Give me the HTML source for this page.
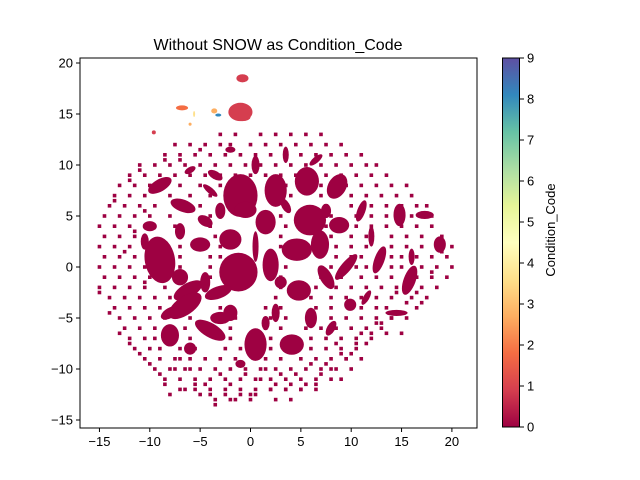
<!DOCTYPE html>
<html><head><meta charset="utf-8"><style>
body{margin:0;background:#fff;}
svg{display:block;font-family:"Liberation Sans","DejaVu Sans",sans-serif;}
</style></head><body>
<svg id="chart" width="640" height="480" viewBox="0 0 640 480">
<defs>
<linearGradient id="spec" x1="0" y1="1" x2="0" y2="0">
<stop offset="0" stop-color="#9e0142"/><stop offset="0.1" stop-color="#d53e4f"/><stop offset="0.2" stop-color="#f46d43"/><stop offset="0.3" stop-color="#fdae61"/><stop offset="0.4" stop-color="#fee08b"/><stop offset="0.5" stop-color="#ffffbf"/><stop offset="0.6" stop-color="#e6f598"/><stop offset="0.7" stop-color="#abdda4"/><stop offset="0.8" stop-color="#66c2a5"/><stop offset="0.9" stop-color="#3288bd"/><stop offset="1" stop-color="#5e4fa2"/>
</linearGradient>
<clipPath id="pc"><rect x="80" y="58" width="397" height="370"/></clipPath>
</defs>
<text x="278" y="50" font-size="16" text-anchor="middle">Without SNOW as Condition_Code</text>
<g id="marks" clip-path="url(#pc)"></g>
<rect x="80" y="58" width="397" height="370" fill="none" stroke="#000" stroke-width="1"/>
<g id="axes"></g>
<rect x="502.5" y="58" width="17" height="369" fill="url(#spec)" stroke="#000" stroke-width="1"/>
<text transform="translate(555,230) rotate(-90)" font-size="13" text-anchor="middle">Condition_Code</text>
</svg>
<script>
const xTicks=[-15,-10,-5,0,5,10,15,20];
const yTicks=[-15,-10,-5,0,5,10,15,20];
const cbTicks=[0,1,2,3,4,5,6,7,8,9];
// clusters: [x, y, rx, ry, rotation, code]
const clusters=[
[-1,7,1.7,2.1,0,0],[2.5,7.5,1.1,1.6,0,0],[5.6,8.4,1.2,1.4,0,0],[8.6,7.9,0.9,1.3,30,0],
[-9,8,1.3,0.6,-30,0],[-6.7,6,1.3,0.6,20,0],[-0.5,5.6,1.1,0.8,0,0],[-2,2.7,1.1,1.0,0,0],
[1.5,4.4,1.0,1.2,0,0],[5.9,4.6,1.6,1.5,0,0],[8.8,4.1,1.0,0.8,0,0],[-9,0.7,1.5,2.3,-10,0],
[-5,2.2,1.0,0.7,0,0],[-1.2,-0.5,1.9,1.9,0,0],[-6.2,-2.3,1.6,0.7,-30,0],[-6.5,-3.8,1.9,0.9,-35,0],
[2,0.2,0.8,1.6,0,0],[4.6,1.7,1.5,1.1,0,0],[6.9,2.2,0.9,1.4,0,0],[4.8,-2.3,1.2,1.0,0,0],
[-4,-6.2,1.7,0.7,30,0],[0.5,-7.6,1.1,1.6,0,0],[4.1,-7.6,1.2,1.0,0,0],[-8,-6.7,0.9,1.1,0,0],
[-3.2,-2.5,1.4,0.6,-20,0],[9.9,-3.7,0.6,0.6,0,0],[12.8,0.7,0.5,1.4,20,0],[15.8,-1.3,0.6,1.5,20,0],
[18.8,2.2,0.6,0.8,0,0],[14.8,5.1,0.6,1.1,0,0],[17.3,5.1,0.9,0.4,0,0],[-3,-5,1.0,0.6,0,0],
[2.5,-4.5,0.4,0.9,0,0],[9.5,0,0.5,1.6,40,0],[-10,4,0.7,0.5,0,0],[-4,7.5,0.9,0.3,40,0],
[7.5,-1,0.6,1.3,-30,0],[14.5,-4.5,1.1,0.3,0,0],[11,5.5,0.4,1.1,20,0],[-7,-1,0.8,0.8,0,0],
[-3.5,9,0.8,0.4,30,0],[0.5,10,0.4,0.9,0,0],[-6,9.5,0.6,0.3,-30,0],[3.5,11,0.3,0.8,0,0],
[6.5,10.5,0.8,0.3,-40,0],[-2,11.5,0.5,0.3,0,0],[-4.5,4.5,0.8,0.5,30,0],[-7,3.5,0.5,0.8,0,0],
[-3,5.5,0.5,0.8,0,0],[0.5,2,0.3,1.5,0,0],[3.5,6,0.4,0.8,-30,0],[3,-1.5,0.6,0.6,0,0],
[6,-5,0.6,1.0,0,0],[-2,-4.5,0.7,0.8,0,0],[1.5,-5.5,0.4,0.7,0,0],[-6,-8,0.6,0.6,0,0],
[-1,-9.5,0.5,0.4,0,0],[8,-6,0.4,0.8,30,0],[-10.5,2.5,0.4,0.8,0,0],[12,3,0.3,1,0,0],
[16,1,0.3,0.8,0,0],[11.5,-3,0.3,0.8,30,0],[-8,-4.5,1.0,0.5,-30,0],[-4.5,-1.5,0.5,1.0,0,0],
[7.5,5.5,0.5,0.7,0,0],
[-0.8,18.5,0.6,0.4,0,1],[-1,15.2,1.2,0.9,0,1],[-0.8,14.7,0.8,0.4,0,0.9],[-6.8,15.6,0.6,0.25,0,2],
[-3.6,15.3,0.3,0.25,0,2.5],[-3.2,14.9,0.3,0.15,0,8.5],[-5.6,15,0.1,0.3,0,4],[-9.6,13.2,0.2,0.2,0,1],[-6,14,0.15,0.15,0,3]
];
// scattered points, rows: [y, [x values]]
const pointRows=[
[13,[-3,-1.5,1,2.5,4,5.5,7]],
[12,[-6,-4.5,-3,-2,0,1.5,3,4.5,6,7.5,9]],
[11,[-8.5,-7,-5.5,-4,-2.5,-1,0.5,2,3.5,5,6.5,8,9.5,11]],
[10,[-11,-9.5,-8,-6.5,-5,-3.5,-2,-0.5,1,2.5,4,5.5,7,8.5,10,11.5,12.5]],
[9,[-12,-10.5,-9,-7.5,-6,-4.5,-3,-1.5,0,1.5,3,4.5,6,7.5,9,10.5,12,13.5]],
[8,[-13,-11.5,-10,-7,-5,-3,3.5,7,9.5,11,12.5,14,15.5]],
[7,[-13.5,-12,-10.5,-8,-6,-4,4,7,10,11.5,13,14.5,16]],
[6,[-14,-12.5,-11,-9.5,-5,-3,3.5,7.5,10,12,13.5,15,16.5,17.5]],
[5,[-14.5,-13,-11.5,-10,-8,-4,-3,3,8,10.5,12,13.5,16,18]],
[4,[-15,-13.5,-12,-10.5,-7.5,-4,3.5,7.5,10.5,12,13.5,15,16.5,18]],
[3,[-14.5,-13,-11.5,-7,-3.5,3,8,10,11.5,14,15.5,17,19]],
[2,[-15,-13.5,-12,-10.5,-7,-3,3,8.5,10,11.5,14,15.5,17,20]],
[1,[-14.5,-13,-11.5,-7,-4,-3,4,8.5,10,11,14,15,16.5,18,19.5]],
[0,[-15,-13.5,-12,-10.5,-7,-4,3.5,8,10.5,11.5,14,15,17,18.5,20]],
[-1,[-14.5,-13,-11.5,-10,-7.5,-4,3,7,9,11,12.5,14,16.5,18,19.5]],
[-2,[-15,-13.5,-12,-10.5,-8.5,-4.5,3,6.5,8.5,10,11.5,13,14.5,17,18.5]],
[-3,[-14,-12.5,-11,-9.5,-8,-4,2.5,6,8,9.5,11,12.5,14,16,17.5]],
[-4,[-13.5,-12,-10.5,-9,-3,1.5,3,6.5,8,11,12.5,13.5,16.5]],
[-5,[-13,-11.5,-10,-8.5,-6,-1.5,2,3.5,6,8,9.5,11,12.5,14,15.5]],
[-6,[-12.5,-11,-9.5,-6.5,-2,1.5,3,5.5,7,8.5,10,11.5,13]],
[-7,[-12,-10.5,-9.5,-6,-2,2,6,7.5,9,10.5,12]],
[-8,[-11.5,-10,-9,-7,-5.5,-2.5,-1,2,6,7.5,9,10.5]],
[-9,[-10.5,-9,-7.5,-6,-4.5,-3,-1.5,1.5,3,5,6.5,8,9.5,11]],
[-10,[-9.5,-8,-6.5,-5,-3.5,-2,-0.5,1,2.5,4,5.5,7,8.5,10]],
[-11,[-8.5,-7,-5.5,-4,-2.5,-1,0.5,2,3.5,5,6.5,8,9]],
[-12,[-7,-5.5,-4,-2.5,-1,0.5,2,3.5,5,6.5]],
[-13,[-3.5,-2,0,2.5,4]]
];
const pointsX=[-15,-14,-13.5,-13,-12.5,-12,-12,-11.5,-11,-11,-10.5,-10.5,-10,-9.5,-9,-8.5,-8.5,-8,-7.5,-7.5,-7,-7,-6.5,-6,-5.5,-5,-5,-4.5,-4,-3.5,-3,-2.5,-2,-1.5,-1,-0.5,0,0.5,1,1.5,2,2.5,3,3.5,4,4.5,5,5.5,6,6.5,7,7.5,8,8.5,9,9.5,10,10.5,11,11.5,12,12.5,13,13.5,14,14.5,15,15.5,16,16.5,17,18,19];
const pointsY=[-2.5,-4.5,6.5,-6.5,1.5,-7.5,8.5,3.5,-8.5,9.5,-1.5,5.5,-9.5,2.5,-10.5,-11.5,10.5,-12.5,-10,12,-9,10.5,-12,-10,-11.5,-12.5,11.5,-11.5,-12.5,-13.5,-10.5,-12.5,-11.5,-13,-12.5,-10.5,-12.5,-12.5,-11,-10,-12,-11.5,-10.5,-12,-11.5,-10.5,-12,-11.5,-9.5,-11.5,-10.5,-9.5,-10,-7.5,-8.5,-9,-8.5,-7.5,-6.5,-7.5,-6.5,-5.5,-5.5,-6.5,-5,-2.5,-6.5,-3.5,-0.5,-2.5,-3.5,-0.5,1.5];
function sx(v){return 250.5+v*10.07;}
function sy(v){return 267+(-v)*10.2;}
const cmap=["#9e0142","#d53e4f","#f46d43","#fdae61","#fee08b","#ffffbf","#e6f598","#abdda4","#66c2a5","#3288bd","#5e4fa2"];
function col(c){const t=c/9*10;const i=Math.min(10,Math.round(t));return cmap[i];}
const NS="http://www.w3.org/2000/svg";
const marks=document.getElementById('marks');
function addPoint(x,y){
  const r=document.createElementNS(NS,'rect');
  r.setAttribute('x',sx(x)-1.8);r.setAttribute('y',sy(y)-1.8);
  r.setAttribute('width',3.6);r.setAttribute('height',3.6);r.setAttribute('fill','#9e0142');
  
  
  marks.appendChild(r);
}
pointsX.forEach((x,i)=>addPoint(x,pointsY[i]));
pointRows.forEach(row=>row[1].forEach(x=>addPoint(x,row[0])));
clusters.forEach(c=>{
  const e=document.createElementNS(NS,'ellipse');
  e.setAttribute('cx',sx(c[0]));e.setAttribute('cy',sy(c[1]));
  e.setAttribute('rx',c[2]*10.07);e.setAttribute('ry',c[3]*10.2);
  e.setAttribute('transform','rotate('+c[4]+' '+sx(c[0])+' '+sy(c[1])+')');
  e.setAttribute('fill',col(c[5]));
  
  
  marks.appendChild(e);
});
const axes=document.getElementById('axes');
function line(x1,y1,x2,y2){const l=document.createElementNS(NS,'line');l.setAttribute('x1',x1);l.setAttribute('y1',y1);l.setAttribute('x2',x2);l.setAttribute('y2',y2);l.setAttribute('stroke','#000');return l;}
function txt(x,y,s,a){const t=document.createElementNS(NS,'text');t.setAttribute('x',x);t.setAttribute('y',y);t.setAttribute('font-size','13');t.setAttribute('text-anchor',a);t.textContent=s;return t;}
xTicks.forEach(v=>{
  const l=line(sx(v),428,sx(v),432);
  
  
  axes.appendChild(l);
  const t=txt(sx(v),446,String(v).replace('-','\u2212'),'middle');
  
  
  axes.appendChild(t);
});
yTicks.forEach(v=>{
  const l=line(76,sy(v),80,sy(v));
  
  
  axes.appendChild(l);
  const t=txt(73,sy(v)+4.5,String(v).replace('-','\u2212'),'end');
  
  
  axes.appendChild(t);
});
cbTicks.forEach(v=>{
  const y=427-v*41;
  const l=line(520,y,524,y);
  
  
  axes.appendChild(l);
  const t=txt(527,y+4.5,String(v),'start');
  
  
  axes.appendChild(t);
});
</script>
</body></html>
